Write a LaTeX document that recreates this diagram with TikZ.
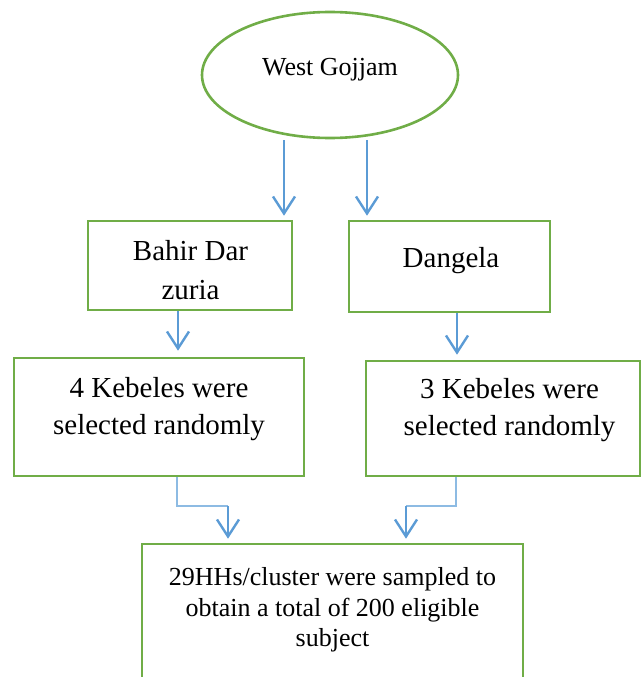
\documentclass[tikz,border=0pt]{standalone}
\usepackage{fontspec}
\setmainfont{Liberation Serif}
\usetikzlibrary{shapes.geometric,arrows.meta}
\definecolor{grn}{HTML}{70AD47}
\definecolor{blu}{HTML}{5B9BD5}
\definecolor{lblu}{HTML}{8DBBE3}
\begin{document}
\begin{tikzpicture}[x=1pt,y=-1pt,
  box/.style={draw=grn,line width=2.6pt,rectangle,inner sep=0pt},
  big/.style={font=\fontsize{29}{37}\selectfont,align=center,inner sep=0pt},
  small/.style={font=\fontsize{26}{30.5}\selectfont,align=center,inner sep=0pt},
  arr/.style={draw=blu,line width=2.4pt,-{Straight Barb[length=17pt,width=22pt]}},
  elb/.style={draw=lblu,line width=1.4pt}]
\useasboundingbox (0,0) rectangle (641,677);
\begin{scope}
\clip (0,0) rectangle (641,677);
\node[draw=grn,line width=2.6pt,ellipse,minimum width=256pt,minimum height=126pt,inner sep=0pt] (ell) at (330,75) {};
\node[small] (tell) at (330,70) {West Gojjam};
\node[box,minimum width=204pt,minimum height=89pt] (bd) at (190,265.5) {};
\node[big,font=\fontsize{29}{39}\selectfont] (tbd) at (190.5,270) {Bahir Dar\\zuria};
\node[box,minimum width=201pt,minimum height=91pt] (dg) at (449.5,266.5) {};
\node[big] (tdg) at (451,261) {Dangela};
\node[box,minimum width=290pt,minimum height=118pt] (k4) at (159,417) {};
\node[big] (tk4) at (159,409) {4 Kebeles were\\selected randomly};
\node[box,minimum width=274pt,minimum height=115pt] (k3) at (503,418.5) {};
\node[big] (tk3) at (509.5,410) {3 Kebeles were\\selected randomly};
\node[box,minimum width=381pt,minimum height=170pt] (bt) at (332.5,629) {};
\node[small] (tbt) at (332.5,610) {29HHs/cluster were sampled to\\obtain a total of 200 eligible\\subject};
\end{scope}
\draw[arr] ([xshift=-46pt,yshift=-1pt]ell.south) -- ([xshift=-46pt,yshift=4pt]ell.south |- bd.north);
\draw[arr] ([xshift=37pt,yshift=-1pt]ell.south) -- ([xshift=37pt,yshift=4pt]ell.south |- bd.north);
\draw[arr] ([xshift=-12pt]bd.south) -- ([xshift=-12pt,yshift=6pt]bd.south |- k4.north);
\draw[arr] ([xshift=7.5pt]dg.south) -- ([xshift=7.5pt,yshift=5pt]dg.south |- k3.north);
\coordinate (lb) at (228,506);
\coordinate (rb) at (406,506);
\draw[elb] ([xshift=18pt]k4.south) |- (lb);
\draw[elb] ([xshift=-47pt]k3.south) |- (rb);
\draw[arr] (lb) -- ([yshift=4pt]lb |- bt.north);
\draw[arr] (rb) -- ([yshift=4pt]rb |- bt.north);
\end{tikzpicture}
\end{document}
